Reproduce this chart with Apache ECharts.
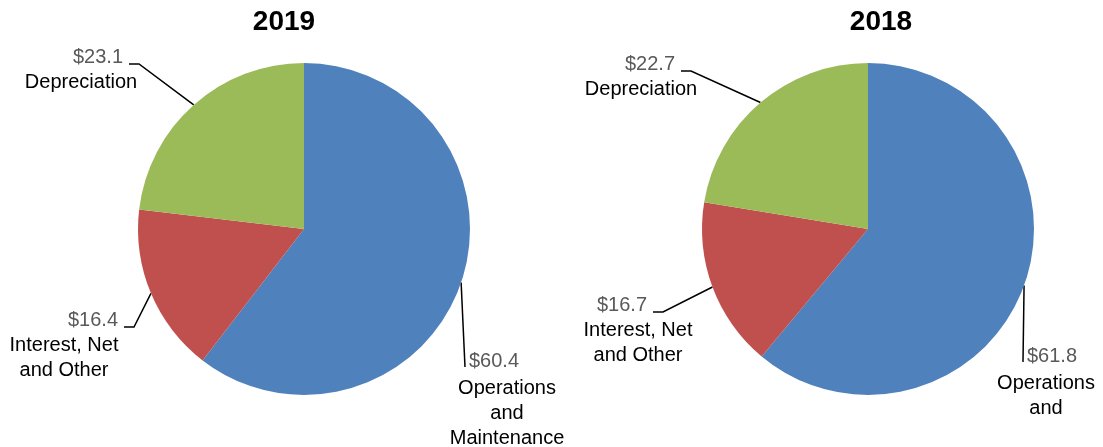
<!DOCTYPE html>
<html>
<head>
<meta charset="utf-8">
<script src="https://cdn.jsdelivr.net/npm/echarts@6/dist/echarts.min.js"></script>
<style>
  html, body { margin: 0; padding: 0; background: #fff; }
  #main { width: 1103px; height: 447px; }
</style>
</head>
<body>
<div id="main"></div>
<script>
// 数据
var categories = ['Operations\nand\nMaintenance', 'Interest, Net\nand Other', 'Depreciation'];
var years = ['2019', '2018'];
var values2019 = [60.4, 16.4, 23.1];
var values2018 = [61.8, 16.7, 22.7];
var colors = ['#4F81BD', '#C0504D', '#9BBB59'];

// label placement per pie: [name centre x, value line centre y, value shift, side, visible name lines]
var labelPos = [
    [[507, 361, -13, 'below', 3], [64, 320, 29, 'left', 2], [81, 57, 17, 'left', 1]],
    [[1046, 356, 6, 'below', 2], [638, 305, -16, 'left', 2], [641, 64, 9, 'left', 1]]
];
var pieCenters = [[304, 229], [868, 229]];
var titleX = [284, 881];

var FONT = '"Liberation Sans", Arial, sans-serif';
var LH = 25;

function valueLineHeight(p) {
    return p[3] === 'below' ? 29 : LH;
}

var chart = echarts.init(document.getElementById('main'));

function makeSeries(idx, values) {
    var pos = labelPos[idx];
    var rich = {
        n: { fontFamily: FONT, fontSize: 20, color: '#000', lineHeight: LH, align: 'center' }
    };
    pos.forEach(function (p, i) {
        var d = p[2];
        rich['v' + i] = {
            fontFamily: FONT, fontSize: 20, color: '#595959', lineHeight: valueLineHeight(p), align: 'center',
            padding: d > 0 ? [0, 0, 0, 2 * d] : [0, -2 * d, 0, 0]
        };
    });
    return {
        name: years[idx],
        type: 'pie',
        center: pieCenters[idx],
        radius: 166,
        startAngle: 90,
        clockwise: true,
        avoidLabelOverlap: false,
        animation: false,
        data: values.map(function (v, i) {
            return { name: categories[i], value: v, itemStyle: { color: colors[i] } };
        }),
        label: {
            show: true,
            position: 'outside',
            align: 'center',
            formatter: function (params) {
                var p = pos[params.dataIndex];
                var lines = params.name.split('\n').slice(0, p[4]).join('\n');
                return '{v' + params.dataIndex + '|$' + params.value.toFixed(1) + '}\n{n|' + lines + '}';
            },
            rich: rich
        },
        labelLine: {
            show: true,
            lineStyle: { color: '#000', width: 1.5 }
        },
        labelLayout: function (params) {
            var p = pos[params.dataIndex];
            var vx = p[0] + p[2];
            var vy = p[1];
            var start = params.labelLinePoints ? params.labelLinePoints[0] : [vx, vy];
            var end, elbow;
            if (p[3] === 'left') {
                end = [vx + 25 + 6, vy + 7];
                elbow = [end[0] + 10, end[1]];
            } else {
                end = [vx - 25 - 4, vy + 6];
                elbow = end;
            }
            return {
                x: p[0],
                y: vy - valueLineHeight(p) / 2,
                align: 'center',
                verticalAlign: 'top',
                labelLinePoints: [start, elbow, end]
            };
        },
        emphasis: { disabled: true }
    };
}

var option = {
    backgroundColor: '#fff',
    title: years.map(function (y, i) {
        return {
            text: y,
            left: titleX[i],
            top: 8,
            padding: 0,
            textAlign: 'center',
            textStyle: { fontFamily: FONT, fontSize: 28, fontWeight: 'bold', color: '#000' }
        };
    }),
    tooltip: { show: false },
    series: [makeSeries(0, values2019), makeSeries(1, values2018)]
};
chart.setOption(option);
</script>
</body>
</html>
